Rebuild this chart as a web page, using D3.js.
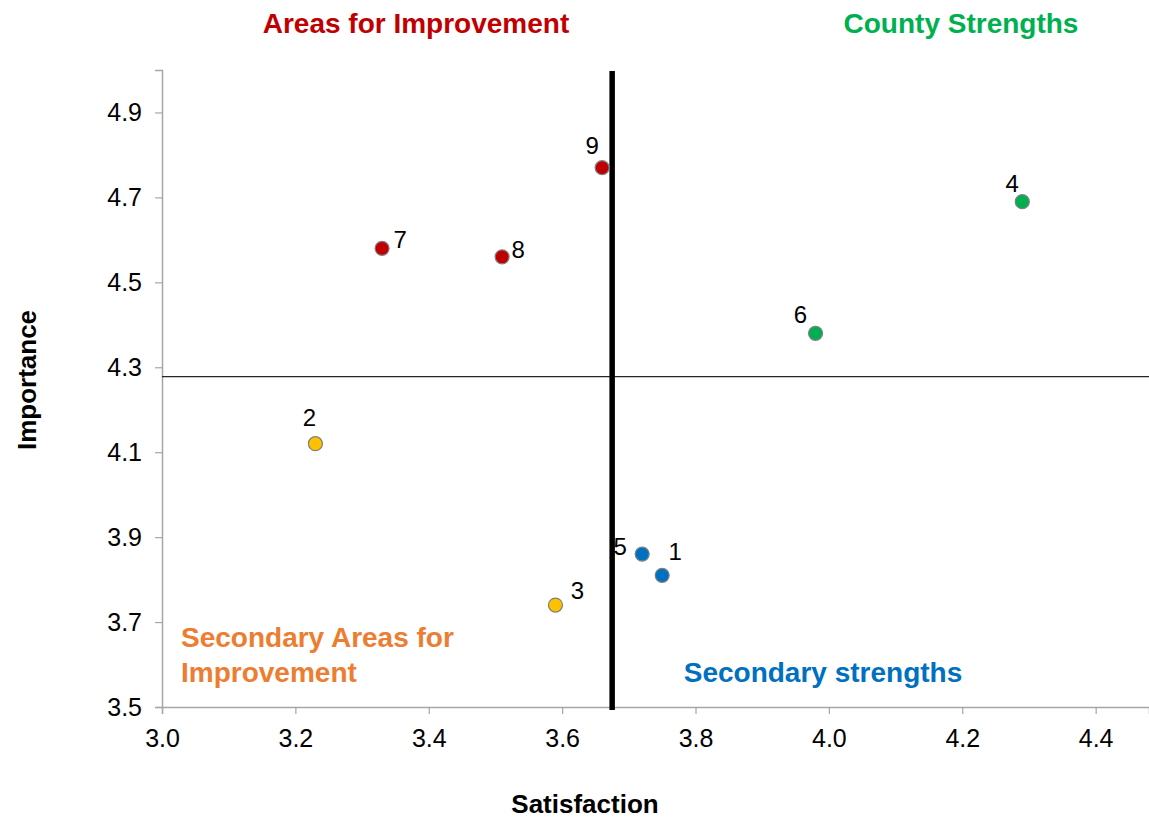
<!DOCTYPE html>
<html><head><meta charset="utf-8">
<script src="https://cdn.jsdelivr.net/npm/d3@7"></script>
<style>body{margin:0;background:#fff;}svg{display:block;font-family:"Liberation Sans",Arial,sans-serif;}</style>
</head><body><svg id="c" width="1149" height="819"></svg>
<script>
const ids = ["1","2","3","4","5","6","7","8","9"];
const satisfaction = [3.75,3.23,3.59,4.29,3.72,3.98,3.33,3.51,3.66];
const importance   = [3.81,4.12,3.74,4.69,3.86,4.38,4.58,4.56,4.77];
const groups = ["secondaryStrength","secondaryImprove","secondaryImprove","strength","secondaryStrength","strength","improve","improve","improve"];
const xTicks = [3.0,3.2,3.4,3.6,3.8,4.0,4.2,4.4];
const yTicks = [3.5,3.7,3.9,4.1,4.3,4.5,4.7,4.9];
const meanSatisfaction = 3.675;
const meanImportance = 4.278;

const colors = {improve:"#C00000", strength:"#00B050", secondaryStrength:"#0070C0", secondaryImprove:"#FFC000"};
// label placement relative to each marker (layout only)
const labelOffsets = {"1":[13,-15],"2":[-6,-18],"3":[22,-6],"4":[-10,-10],"5":[-22,1],"6":[-15,-10],"7":[18,0],"8":[16,1],"9":[-10,-14]};
const FONT = "Liberation Sans, Arial, sans-serif";

const svg = d3.select("#c");
const x = d3.scaleLinear().domain([3.0,4.48]).range([162,1149]);
const y = d3.scaleLinear().domain([3.5,5.0]).range([707,70]);

// axes
const xa = svg.append("g").attr("transform","translate(0,707)")
  .call(d3.axisBottom(x).tickValues(xTicks).tickFormat(d3.format(".1f")).tickSizeOuter(0).tickSize(7).tickPadding(15));
const ya = svg.append("g").attr("transform","translate(162,0)")
  .call(d3.axisLeft(y).tickValues(yTicks).tickFormat(d3.format(".1f")).tickSizeOuter(0).tickSize(7).tickPadding(13));
[xa,ya].forEach(a=>{
  a.attr("font-family",FONT);
  a.select(".domain").attr("stroke","#a6a6a6").attr("stroke-width",1.5);
  a.selectAll(".tick line").attr("stroke","#a6a6a6").attr("stroke-width",1.2);
  a.selectAll(".tick text").attr("font-size",25).attr("fill","#000");
});

// quadrant lines
svg.append("line").attr("x1",x(3.0)).attr("x2",1149).attr("y1",y(meanImportance)).attr("y2",y(meanImportance))
  .attr("stroke","#262626").attr("stroke-width",1.3);
svg.append("line").attr("x1",x(meanSatisfaction)).attr("x2",x(meanSatisfaction)).attr("y1",y(5.0)+1).attr("y2",y(3.5)+3)
  .attr("stroke","#000").attr("stroke-width",5.5);

// points
const data = ids.map((id,i)=>({id, sx:satisfaction[i], im:importance[i], g:groups[i]}));
svg.append("g").selectAll("circle").data(data).join("circle")
  .attr("cx",d=>x(d.sx)).attr("cy",d=>y(d.im)).attr("r",7)
  .attr("fill",d=>colors[d.g]).attr("stroke","#7f7f7f").attr("stroke-width",1.2);

svg.append("g").selectAll("text").data(data).join("text")
  .attr("x",d=>x(d.sx)+labelOffsets[d.id][0])
  .attr("y",d=>y(d.im)+labelOffsets[d.id][1])
  .attr("text-anchor","middle").attr("font-size",24).attr("fill","#000")
  .text(d=>d.id);

// quadrant titles
const tt = (t,xx,yy,c,anchor)=>svg.append("text").attr("x",xx).attr("y",yy).attr("fill",c)
  .attr("font-size",28).attr("font-weight","bold").attr("text-anchor",anchor||"middle").text(t);
tt("Areas for Improvement",416,33,"#C00000");
tt("County Strengths",961,33,"#00B050");
tt("Secondary strengths",823,682,"#0070C0");
tt("Secondary Areas for",181,647,"#ED7D31","start");
tt("Improvement",181,682,"#ED7D31","start");

// axis titles
svg.append("text").attr("x",585).attr("y",813).attr("text-anchor","middle").attr("font-size",26).attr("font-weight","bold").text("Satisfaction");
svg.append("text").attr("transform","translate(36,380) rotate(-90)").attr("text-anchor","middle").attr("font-size",26).attr("font-weight","bold").text("Importance");
</script></body></html>
